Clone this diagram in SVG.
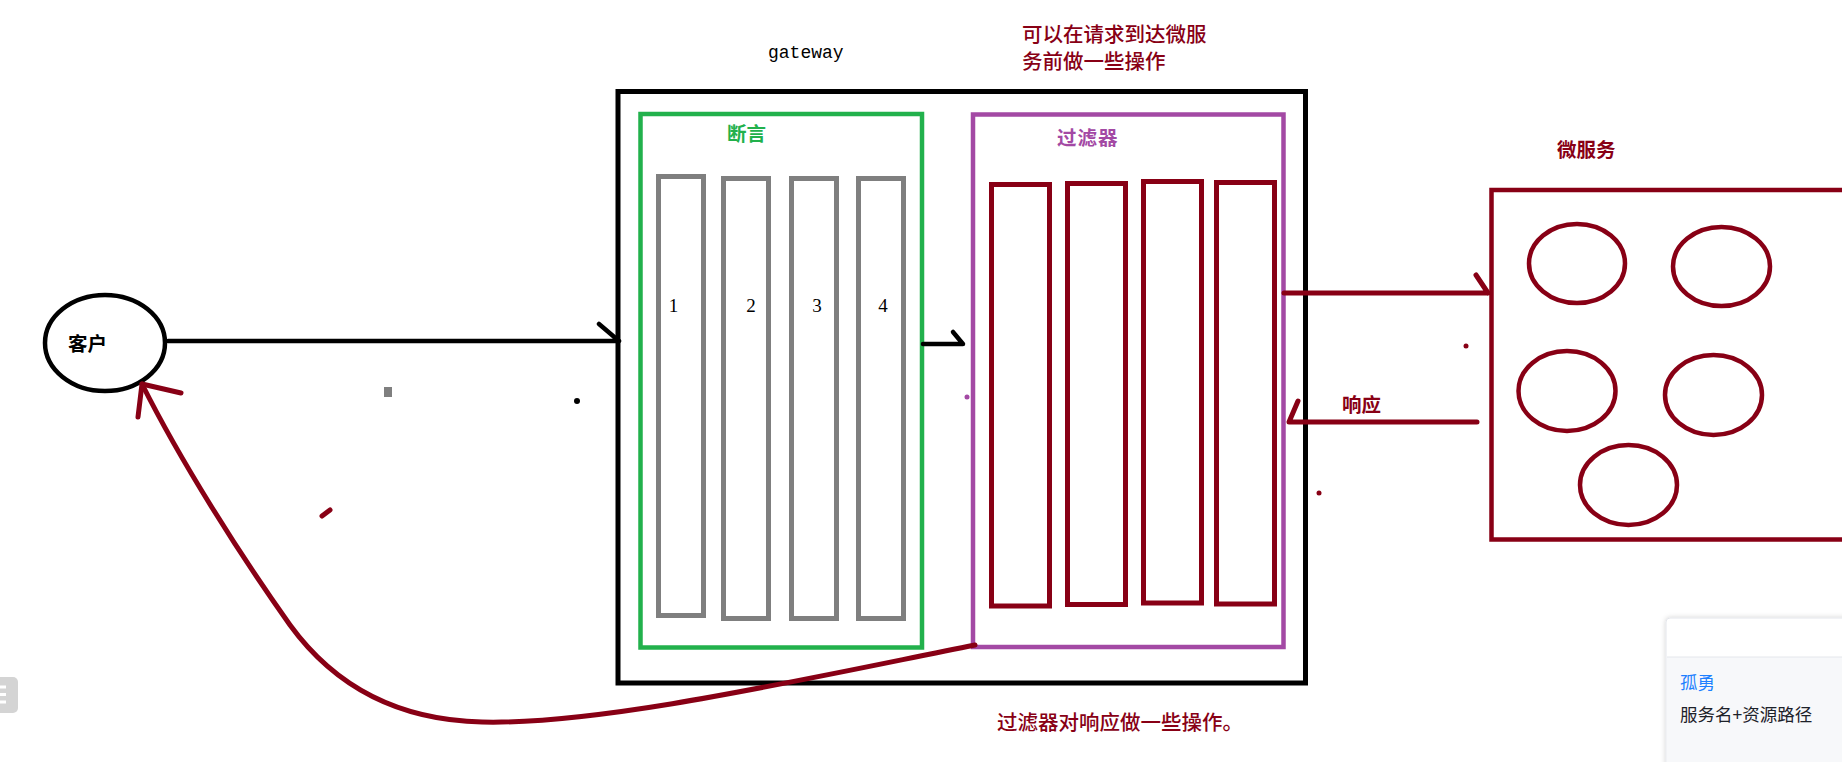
<svg xmlns="http://www.w3.org/2000/svg" width="1842" height="762" viewBox="0 0 1842 762">
  <style>
    .cjk { font-family: "Noto Sans CJK SC", "Noto Sans", sans-serif; }
    .lbl { font-size: 19.5px; font-weight: bold; }
    .note { font-size: 20.5px; font-weight: 500; fill: #880015; }
    .red { fill: none; stroke: #880015; stroke-width: 5; }
    .gray { fill: none; stroke: #7f7f7f; stroke-width: 5; }
    .digit { font-family: "Liberation Serif", serif; font-size: 19px; fill: #000; text-anchor: middle; }
    .blk { fill: none; stroke: #000; stroke-width: 4.5; stroke-linecap: round; stroke-linejoin: round; }
    .redline { fill: none; stroke: #880015; stroke-width: 5; stroke-linecap: round; stroke-linejoin: round; }
    .svc { fill: none; stroke: #880015; stroke-width: 4.5; }
  </style>
  <defs>
    <filter id="shadow" x="-10%" y="-10%" width="130%" height="130%">
      <feDropShadow dx="0" dy="0" stdDeviation="2.5" flood-color="#000" flood-opacity="0.18"/>
    </filter>
  </defs>
  <rect width="1842" height="762" fill="#fff"/>

  <g id="client">
    <ellipse cx="105" cy="343" rx="60" ry="48" fill="#fff" stroke="#000" stroke-width="4.5"/>
    <text class="cjk lbl" x="68" y="351" fill="#000">客户</text>
  </g>

  <g id="gateway">
    <text x="768" y="58" font-family="Liberation Mono, monospace" font-size="18" fill="#000">gateway</text>
    <rect x="618" y="91.5" width="687.5" height="591.5" fill="none" stroke="#000" stroke-width="5"/>
  </g>

  <g id="predicates">
    <rect x="640.5" y="114" width="281.5" height="533.5" fill="none" stroke="#22b14c" stroke-width="4.5"/>
    <text class="cjk lbl" x="727" y="141" fill="#22b14c">断言</text>
    <rect class="gray" x="658.5" y="176.5" width="45" height="439"/>
    <rect class="gray" x="723.5" y="178.5" width="45" height="440"/>
    <rect class="gray" x="791.5" y="178.5" width="45" height="440"/>
    <rect class="gray" x="858.5" y="178.5" width="45" height="440"/>
    <text class="digit" x="673.5" y="312">1</text>
    <text class="digit" x="751" y="312">2</text>
    <text class="digit" x="817" y="312">3</text>
    <text class="digit" x="883" y="312">4</text>
  </g>

  <g id="filters">
    <rect x="973" y="114.5" width="310.5" height="532.5" fill="none" stroke="#a349a4" stroke-width="4.5"/>
    <text class="cjk lbl" x="1057" y="145" fill="#a349a4" letter-spacing="1">过滤器</text>
    <rect class="red" x="991.5" y="184.5" width="58" height="421.5"/>
    <rect class="red" x="1067.5" y="183.5" width="58" height="421"/>
    <rect class="red" x="1143.5" y="181.5" width="58" height="421.5"/>
    <rect class="red" x="1216.5" y="182.5" width="58" height="421.5"/>
  </g>

  <g id="microservices">
    <text class="cjk lbl" x="1557" y="157" fill="#880015">微服务</text>
    <rect class="svc" x="1491.5" y="190" width="360" height="349.5"/>
    <ellipse class="svc" cx="1577" cy="263.5" rx="48" ry="39.5"/>
    <ellipse class="svc" cx="1721.5" cy="266.5" rx="48.5" ry="39.5"/>
    <ellipse class="svc" cx="1567" cy="391" rx="48.5" ry="40"/>
    <ellipse class="svc" cx="1713.5" cy="395" rx="48.5" ry="40"/>
    <ellipse class="svc" cx="1628.5" cy="485" rx="48.5" ry="40"/>
  </g>

  <g id="notes">
    <text class="cjk note" x="1022" y="42">可以在请求到达微服</text>
    <text class="cjk note" x="1022" y="69">务前做一些操作</text>
    <text class="cjk note" x="997" y="730">过滤器对响应做一些操作。</text>
    <text class="cjk lbl" x="1342" y="412" fill="#880015">响应</text>
  </g>

  <g id="connectors">
    <path class="blk" d="M168,341 L619,341 M599,324 L619,341"/>
    <path class="blk" d="M923,344 L963,344 L953,332"/>
    <path class="redline" d="M1284,293 L1488,293 M1476,275 L1488,293"/>
    <path class="redline" d="M1477,422 L1289,422 L1298,401"/>
    <path class="redline" stroke-width="4.5" d="M975,645 C 800,680 600,725 482,722 C 390,720 330,680 290,625 C 240,555 180,460 142,384"/>
    <path class="redline" d="M181,393 L142,384 L138,417"/>
  </g>

  <g id="marks">
    <rect x="384" y="387" width="8" height="10" fill="#7f7f7f"/>
    <circle cx="577" cy="401" r="3" fill="#000"/>
    <path d="M322,516 L330,510" stroke="#880015" stroke-width="5" stroke-linecap="round"/>
    <circle cx="967" cy="397" r="2.5" fill="#a349a4"/>
    <circle cx="1466" cy="346" r="2.5" fill="#880015"/>
    <circle cx="1319" cy="493" r="2.5" fill="#880015"/>
  </g>

  <g id="side-button">
    <rect x="-10" y="677" width="28" height="36" rx="5" fill="#d4d4d4"/>
    <path d="M0,687 L6,687 M0,694.5 L6,694.5 M0,702 L6,702" stroke="#fff" stroke-width="3"/>
  </g>

  <g id="popup">
    <rect x="1666" y="618" width="190" height="160" rx="4" fill="#fff" stroke="#e4e6eb" stroke-width="1" filter="url(#shadow)"/>
    <rect x="1667" y="657" width="180" height="110" fill="#f7f8fa"/>
    <line x1="1667" y1="657" x2="1842" y2="657" stroke="#e4e6eb" stroke-width="1"/>
    <text class="cjk" x="1680" y="689" font-size="17.5" fill="#1e80ff">孤勇</text>
    <text class="cjk" x="1680" y="721" font-size="17.5" fill="#1d2129">服务名+资源路径</text>
  </g>
</svg>
